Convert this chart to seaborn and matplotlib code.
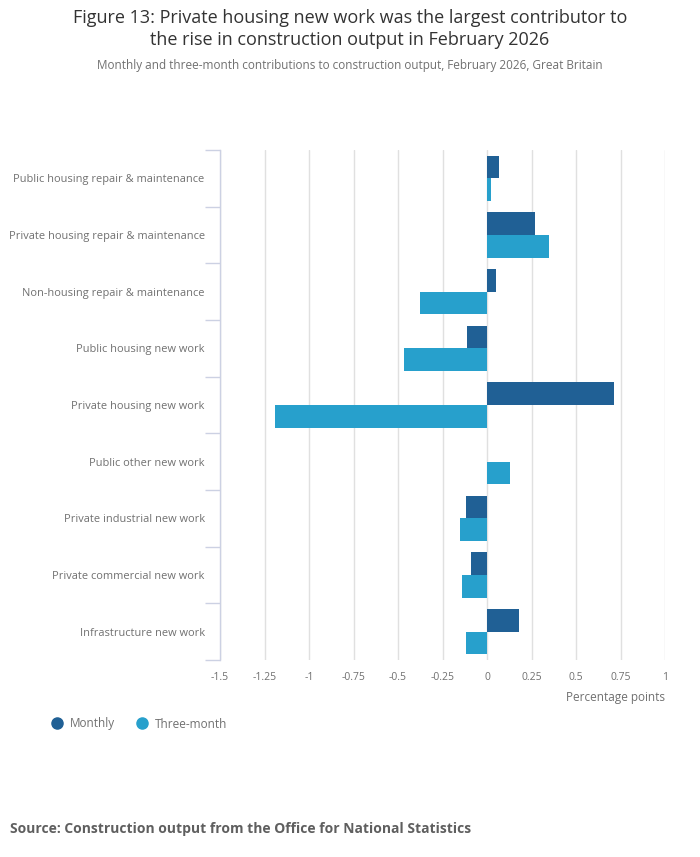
import matplotlib
matplotlib.use("Agg")
import matplotlib.pyplot as plt
import seaborn as sns
import pandas as pd
from matplotlib.lines import Line2D
from matplotlib.ticker import FixedLocator

categories = [
    "Public housing repair & maintenance",
    "Private housing repair & maintenance",
    "Non-housing repair & maintenance",
    "Public housing new work",
    "Private housing new work",
    "Public other new work",
    "Private industrial new work",
    "Private commercial new work",
    "Infrastructure new work",
]
monthly = [0.067, 0.268, 0.05, -0.112, 0.714, 0.0, -0.117, -0.089, 0.178]
three_month = [0.022, 0.346, -0.379, -0.468, -1.193, 0.128, -0.151, -0.139, -0.117]
series_names = ["Monthly", "Three-month"]
x_ticks = [-1.5, -1.25, -1, -0.75, -0.5, -0.25, 0, 0.25, 0.5, 0.75, 1]
x_tick_labels = ["-1.5", "-1.25", "-1", "-0.75", "-0.5", "-0.25", "0", "0.25", "0.5", "0.75", "1"]

colors = ["#206095", "#27a0cc"]

df = pd.DataFrame({
    "category": categories * 2,
    "value": monthly + three_month,
    "series": [series_names[0]] * len(categories) + [series_names[1]] * len(categories),
})

sns.set_theme(style="white")
plt.rcParams["font.family"] = ["Open Sans", "DejaVu Sans"]

fig = plt.figure(figsize=(7.0, 8.57), dpi=100)
ax = fig.add_axes([220 / 700, 1 - 660 / 857, 445 / 700, 510 / 857])

sns.barplot(data=df, x="value", y="category", hue="series", order=categories,
            hue_order=series_names, palette=colors, width=0.8, saturation=1,
            orient="h", ax=ax, legend=False)
for p in ax.patches:
    p.set_edgecolor("none")

ax.set_xlim(-1.5, 1)
ax.set_ylim(len(categories) - 0.5, -0.5)
ax.set_xticks(x_ticks)
ax.set_xticklabels(x_tick_labels)
ax.grid(axis="x", color="#e0e0e0", linewidth=1)
ax.set_axisbelow(True)
ax.set_xlabel("")
ax.set_ylabel("")

for s in ["top", "right", "bottom"]:
    ax.spines[s].set_visible(False)
ax.spines["left"].set_color("#ccd1e3")
ax.spines["left"].set_linewidth(1)
ax.spines["left"].set_zorder(5)

ax.tick_params(axis="x", length=0, labelsize=7.5, labelcolor="#707070", pad=9)
ax.tick_params(axis="y", which="major", left=False, length=0, labelsize=7.9, labelcolor="#707070", pad=11)
ax.yaxis.set_minor_locator(FixedLocator([i - 0.5 for i in range(len(categories) + 1)]))
ax.tick_params(axis="y", which="minor", left=True, length=11, color="#ccd1e3", width=1)

fig.text(665 / 700, 1 - 697 / 857, "Percentage points", ha="right", va="center",
         fontsize=8.5, color="#707070")

fig.text(0.5, 1 - 18 / 857, "Figure 13: Private housing new work was the largest contributor to",
         ha="center", va="center", fontsize=13, color="#333333")
fig.text(0.5, 1 - 40 / 857, "the rise in construction output in February 2026",
         ha="center", va="center", fontsize=13, color="#333333")
fig.text(0.5, 1 - 65 / 857,
         "Monthly and three-month contributions to construction output, February 2026, Great Britain",
         ha="center", va="center", fontsize=8.5, color="#707070")

handles = [Line2D([0], [0], marker="o", linestyle="none", markersize=8,
                  markerfacecolor=c, markeredgecolor=c) for c in colors]
fig.legend(handles, series_names, loc="center left", bbox_to_anchor=(40 / 700, 1 - 724 / 857),
           frameon=False, ncol=2, fontsize=8.5, labelcolor="#707070", handletextpad=0.6,
           columnspacing=1.8, handlelength=1.0)

fig.text(10 / 700, 1 - 829 / 857, "Source: Construction output from the Office for National Statistics",
         ha="left", va="center", fontsize=10, fontweight="bold", color="#5f5f5f")

fig.savefig("out.png", dpi=100)
